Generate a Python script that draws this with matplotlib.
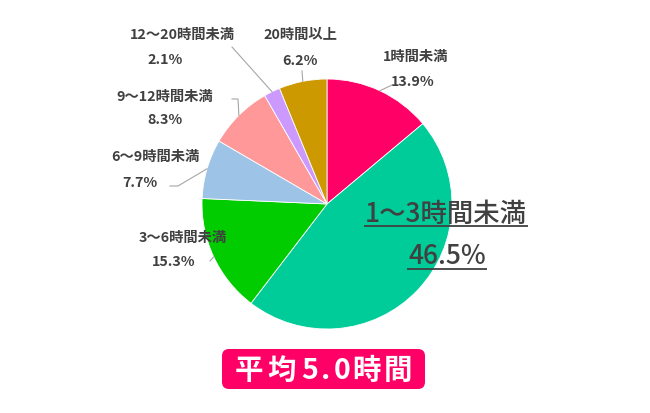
import numpy as np
import matplotlib
matplotlib.use("Agg")
import matplotlib.pyplot as plt
from matplotlib.patches import FancyBboxPatch

plt.rcParams['font.family'] = ['Noto Sans CJK JP', 'DejaVu Sans']

categories = ["1時間未満", "1～3時間未満", "3～6時間未満", "6～9時間未満",
              "9～12時間未満", "12～20時間未満", "20時間以上"]
values = [13.9, 46.5, 15.3, 7.7, 8.3, 2.1, 6.2]
colors = ["#FF0066", "#00CC99", "#00CC00", "#9DC3E6", "#FF9999", "#CC99FF", "#CC9900"]
average_label = "平均5.0時間"

W, H = 650, 414
fig = plt.figure(figsize=(W / 100, H / 100), dpi=100)
ax = fig.add_axes([0, 0, 1, 1])

cx, cy, R = 327, H - 205, 125
wedges, _ = ax.pie(values, colors=colors, startangle=90, counterclock=False,
                   center=(cx, cy), radius=R, frame=True,
                   wedgeprops=dict(edgecolor="white", linewidth=0.6))
ax.set_xlim(0, W)
ax.set_ylim(0, H)
ax.set_aspect('equal')
ax.axis('off')

txt_color = "#404040"
line_color = "#A6A6A6"

# label layout (pixel coords, y from top)
layout = {
    0: dict(name=(416, 57), pct=(413, 82), path=[(392, 86)]),
    2: dict(name=(183, 238), pct=(174, 262), path=[(210, 262)]),
    3: dict(name=(155, 157), pct=(140, 183), path=[(170, 187), (178, 187)]),
    4: dict(name=(165, 97), pct=(165, 120), path=[(232, 100), (238, 100)]),
    5: dict(name=(182, 35), pct=(165, 60), path=[(232, 48)]),
    6: dict(name=(300, 35), pct=(300, 61), path=[(302, 72)]),
}

total = sum(values)
angles = []
cum = 0
for v in values:
    mid = 90 - (cum + v / 2) / total * 360
    angles.append(mid)
    cum += v

for i, lay in layout.items():
    nx, ny = lay['name']
    px, py = lay['pct']
    ax.text(nx, H - ny, categories[i], ha='center', va='center', fontsize=10.3,
            color=txt_color, fontweight='bold')
    ax.text(px, H - py, f"{values[i]:.1f}%", ha='center', va='center', fontsize=10.3,
            color=txt_color, fontweight='bold')
    a = np.deg2rad(angles[i])
    ex, ey = cx + R * np.cos(a), cy + R * np.sin(a)
    pts = [(x, H - y) for x, y in lay['path']] + [(ex, ey)]
    xs, ys = zip(*pts)
    ax.plot(xs, ys, color=line_color, lw=0.8, zorder=3)

# Big label for largest slice
t1 = ax.text(446, H - 214, categories[1], ha='center', va='center', fontsize=19,
             color=txt_color, fontweight='medium')
t2 = ax.text(447, H - 257, f"{values[1]:.1f}%", ha='center', va='center', fontsize=19,
             color=txt_color, fontweight='medium')
fig.canvas.draw()
r = fig.canvas.get_renderer()
inv = ax.transData.inverted()
for t, uy in ((t1, 227), (t2, 270)):
    bb = t.get_window_extent(r)
    (x0, _), (x1, _) = inv.transform([(bb.x0, bb.y0), (bb.x1, bb.y1)])
    ax.plot([x0 - 1, x1 + 1], [H - uy, H - uy], color=txt_color, lw=1.3, zorder=4,
            solid_capstyle='butt')

# Average box
bx0, bx1, by0, by1 = 222, 425, 350, 390
box = FancyBboxPatch((bx0, H - by1), bx1 - bx0, by1 - by0,
                     boxstyle="round,pad=0,rounding_size=7",
                     facecolor="#FF0066", edgecolor="none", zorder=5)
ax.add_patch(box)
char_x = [249, 282, 310, 326, 342, 367, 398]
for ch, x in zip(average_label, char_x):
    ax.text(x, H - 371, ch, ha='center', va='center',
            fontsize=20.5, color='white', fontweight='bold', zorder=6)

fig.savefig("out.png", dpi=100)
